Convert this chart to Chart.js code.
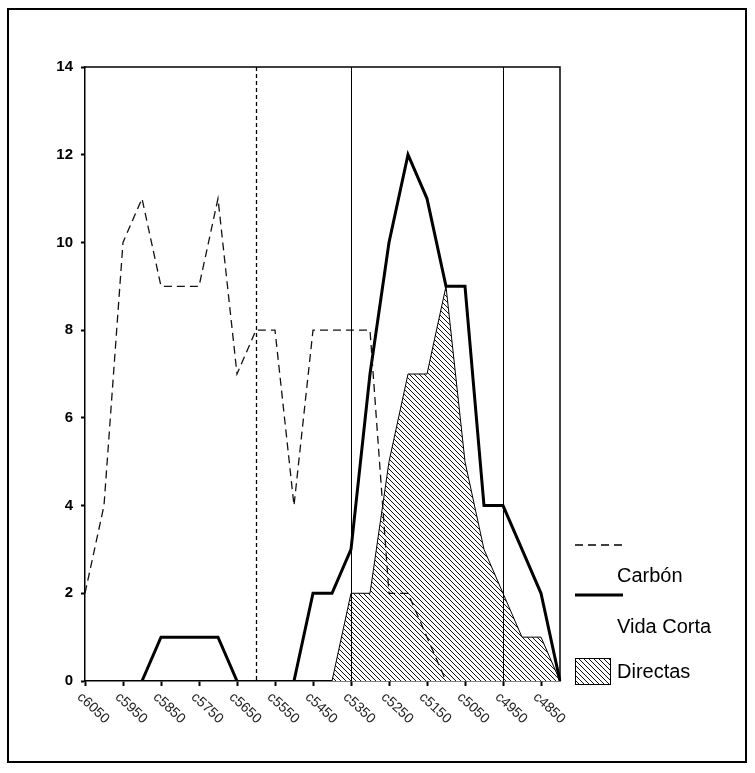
<!DOCTYPE html>
<html>
<head>
<meta charset="utf-8">
<script src="https://cdn.jsdelivr.net/npm/chart.js@4"></script>
<style>
    html, body { margin: 0; padding: 0; background: #fff; }
    canvas { display: block; }
</style>
</head>
<body>
<canvas id="chart" width="755" height="773"></canvas>
<script>
// One category every 50 years, c6050 down to c4800
const categories = ['c6050', 'c6000', 'c5950', 'c5900', 'c5850', 'c5800', 'c5750', 'c5700', 'c5650', 'c5600',
    'c5550', 'c5500', 'c5450', 'c5400', 'c5350', 'c5300', 'c5250', 'c5200', 'c5150', 'c5100',
    'c5050', 'c5000', 'c4950', 'c4900', 'c4850', 'c4800'];
// Only every other category gets a label
const tickLabels = ['c6050', 'c5950', 'c5850', 'c5750', 'c5650', 'c5550', 'c5450',
    'c5350', 'c5250', 'c5150', 'c5050', 'c4950', 'c4850'];
const yTicks = [0, 2, 4, 6, 8, 10, 12, 14];

const carbon = [2, 4, 10, 11, 9, 9, 9, 11, 7, 8, 8, 4, 8, 8, 8, 8, 2, 2, 1, 0,
    null, null, null, null, null, null];
const vidaCorta = [null, null, null, 0, 1, 1, 1, 1, 0, null, null, 0, 2, 2, 3, 7, 10, 12, 11, 9,
    9, 4, 4, 3, 2, 0];
const directas = [null, null, null, null, null, null, null, null, null, null, null, null, null, 0, 2, 2, 5, 7, 7, 9,
    5, 3, 2, 1, 1, 0];

// Vertical phase markers
const dashedMarks = ['c5600'];
const solidMarks = ['c5350', 'c4950'];

Chart.defaults.font.family = '"Liberation Sans", Arial, sans-serif';
Chart.defaults.color = '#000';

// Diagonal hatch for Directas
function makeHatch() {
    const size = 5;
    const c = document.createElement('canvas');
    c.width = size;
    c.height = size;
    const g = c.getContext('2d');
    g.fillStyle = '#fff';
    g.fillRect(0, 0, size, size);
    g.strokeStyle = '#111';
    g.lineWidth = 1;
    g.beginPath();
    for (let k = -1; k <= 1; k++) {
        g.moveTo(k * size - 1, -1);
        g.lineTo(k * size + size + 1, size + 1);
    }
    g.stroke();
    return g.createPattern(c, 'repeat');
}
const hatch = makeHatch();

const extrasPlugin = {
    id: 'extras',
    beforeDraw(chart) {
        const ctx = chart.ctx;
        ctx.save();
        ctx.fillStyle = '#fff';
        ctx.fillRect(0, 0, chart.width, chart.height);
        ctx.restore();
    },
    afterDatasetsDraw(chart) {
        const ctx = chart.ctx;
        const area = chart.chartArea;
        const x = chart.scales.x;

        ctx.save();
        // phase markers
        ctx.strokeStyle = '#000';
        ctx.lineWidth = 1.3;
        ctx.setLineDash([4, 3]);
        dashedMarks.forEach(m => {
            const px = Math.round(x.getPixelForValue(categories.indexOf(m))) + 0.5;
            ctx.beginPath();
            ctx.moveTo(px, area.top);
            ctx.lineTo(px, area.bottom);
            ctx.stroke();
        });
        ctx.setLineDash([]);
        ctx.lineWidth = 1;
        solidMarks.forEach(m => {
            const px = Math.round(x.getPixelForValue(categories.indexOf(m))) + 0.5;
            ctx.beginPath();
            ctx.moveTo(px, area.top);
            ctx.lineTo(px, area.bottom);
            ctx.stroke();
        });

        // plot frame (top and right)
        ctx.lineWidth = 1.5;
        ctx.beginPath();
        ctx.moveTo(area.left, area.top);
        ctx.lineTo(area.right, area.top);
        ctx.lineTo(area.right, area.bottom);
        ctx.stroke();
        ctx.restore();
    },
    afterDraw(chart) {
        const ctx = chart.ctx;
        const area = chart.chartArea;
        const x = chart.scales.x;

        ctx.save();
        // rotated x labels
        ctx.fillStyle = '#222';
        ctx.font = '14px "Liberation Sans", Arial, sans-serif';
        ctx.textAlign = 'left';
        ctx.textBaseline = 'top';
        tickLabels.forEach(lbl => {
            const px = x.getPixelForValue(categories.indexOf(lbl));
            ctx.save();
            ctx.translate(px - 1, area.bottom + 9);
            ctx.rotate(43 * Math.PI / 180);
            ctx.fillText(lbl, 0, 0);
            ctx.restore();
        });

        // legend
        const lx = area.right + 15;
        ctx.strokeStyle = '#000';
        ctx.lineWidth = 1.3;
        ctx.setLineDash([8, 5]);
        ctx.beginPath();
        ctx.moveTo(lx, 545);
        ctx.lineTo(lx + 49, 545);
        ctx.stroke();
        ctx.setLineDash([]);
        ctx.lineWidth = 3;
        ctx.beginPath();
        ctx.moveTo(lx, 595);
        ctx.lineTo(lx + 48, 595);
        ctx.stroke();
        ctx.fillStyle = hatch;
        ctx.fillRect(lx, 658, 35, 26);
        ctx.lineWidth = 1;
        ctx.strokeRect(lx + 0.5, 658.5, 35, 26);

        ctx.fillStyle = '#000';
        ctx.font = '20px "Liberation Sans", Arial, sans-serif';
        ctx.textBaseline = 'middle';
        ctx.fillText('Carbón', lx + 42, 576);
        ctx.fillText('Vida Corta', lx + 42, 627);
        ctx.fillText('Directas', lx + 42, 672);

        // outer frame
        ctx.lineWidth = 2;
        ctx.strokeRect(8, 9, 738, 753);
        ctx.restore();
    }
};

new Chart(document.getElementById('chart'), {
    type: 'line',
    data: {
        labels: categories,
        datasets: [
            {
                label: 'Carbón',
                data: carbon,
                borderColor: '#111',
                borderWidth: 1.3,
                borderDash: [8, 5],
                pointRadius: 0,
                tension: 0,
                fill: false
            },
            {
                label: 'Vida Corta',
                data: vidaCorta,
                borderColor: '#000',
                borderWidth: 3,
                borderJoinStyle: 'miter',
                pointRadius: 0,
                tension: 0,
                fill: false
            },
            {
                label: 'Directas',
                data: directas,
                borderColor: '#000',
                borderWidth: 1,
                backgroundColor: hatch,
                pointRadius: 0,
                tension: 0,
                fill: 'origin'
            }
        ]
    },
    options: {
        responsive: false,
        animation: false,
        events: [],
        layout: {
            padding: { left: 0, top: 67, right: 195, bottom: 0 }
        },
        plugins: {
            legend: { display: false },
            tooltip: { enabled: false }
        },
        scales: {
            x: {
                offset: false,
                afterFit: function(scale) { scale.height = 92; },
                border: { display: true, color: '#000', width: 1.5 },
                grid: {
                    drawOnChartArea: false,
                    drawTicks: true,
                    tickLength: 5,
                    tickWidth: 2,
                    tickColor: function(ctx) {
                        return ctx.index % 2 === 0 ? '#000' : 'rgba(0,0,0,0)';
                    }
                },
                ticks: { display: false, autoSkip: false, maxRotation: 0 }
            },
            y: {
                min: 0,
                max: 14,
                afterBuildTicks: function(scale) {
                    scale.ticks = yTicks.map(v => ({ value: v }));
                },
                afterFit: function(scale) { scale.width = 85; },
                border: { display: true, color: '#000', width: 1.5 },
                grid: {
                    drawOnChartArea: false,
                    tickLength: 4,
                    tickWidth: 2,
                    tickColor: '#000'
                },
                ticks: {
                    padding: 8,
                    font: { size: 15, weight: 'bold' },
                    color: '#000'
                }
            }
        }
    },
    plugins: [extrasPlugin]
});
</script>
</body>
</html>
